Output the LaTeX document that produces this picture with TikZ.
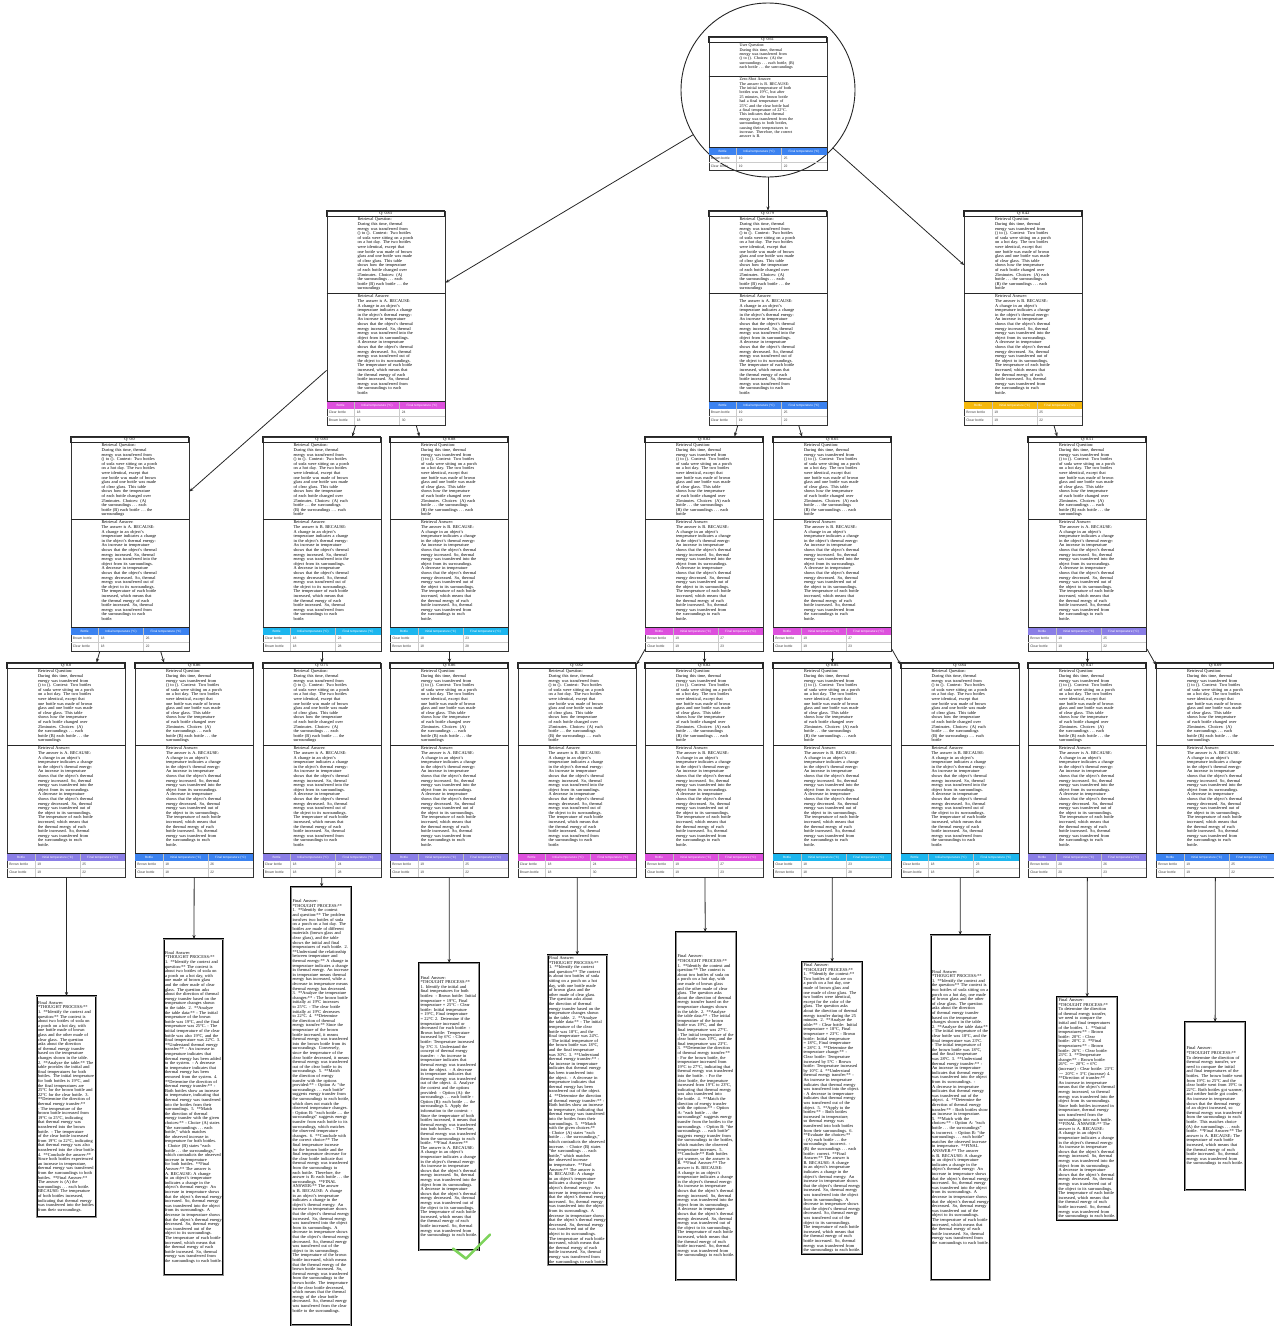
\documentclass[tikz,border=0pt]{standalone}
\usepackage{fontspec}
\setmainfont{Liberation Serif}
\newfontfamily\tabfont{Liberation Sans}
\usetikzlibrary{arrows.meta}
\hyphenpenalty=10000
\exhyphenpenalty=10000

\definecolor{hdblue}{HTML}{3B82F0}
\definecolor{hdpink}{HTML}{DD50DD}
\definecolor{hdcyan}{HTML}{1CB6EE}
\definecolor{hdgold}{HTML}{F5B80C}
\definecolor{hdlilac}{HTML}{8A7EE6}
\definecolor{checkgreen}{HTML}{7DD35B}

\newcommand{\lecture}{A change in an object's temperature indicates a change in the object's thermal energy: An increase in temperature shows that the object's thermal energy increased. So, thermal energy was transferred into the object from its surroundings. A decrease in temperature shows that the object's thermal energy decreased. So, thermal energy was transferred out of the object to its surroundings. The temperature of each bottle increased, which means that the thermal energy of each bottle increased. So, thermal energy was transferred from the surroundings to each bottle.}
\newcommand{\chA}{(A) the surroundings~.\,.\,.~each bottle (B) each bottle~.\,.\,.~the surroundings}
\newcommand{\chB}{(A) each bottle~.\,.\,.~the surroundings (B) the surroundings~.\,.\,.~each bottle}
\newcommand{\rqtext}[1]{Retrieval Question:\\During this time, thermal energy was transferred from () to (). Context: Two bottles of soda were sitting on a porch on a hot day. The two bottles were identical, except that one bottle was made of brown glass and one bottle was made of clear glass. This table shows how the temperature of each bottle changed over 25minutes. Choices: #1}

% one table row: name, y, bottle, initial, final
\newcommand{\tabrow}[5]{%
  \node[celltext] (#1a) at (2,#2) {#3};
  \node[celltext] (#1b) at (30,#2) {#4};
  \node[celltext] (#1c) at (75,#2) {#5};}

% retrieval card: name, x, top, score, choices, letter, colour, row, row
\newcommand{\card}[9]{%
  \node[cardframe] (#1) at (#2,#3+107) {};
  \begin{scope}[shift={(#1.north west)}]
    \draw[secline] (0,0) rectangle (118,6);
    \node[qlabel] (#1-s) at (59,3) {Q: #4};
    \node[cardtext] (#1-q) at (59,7.2) {\rqtext{#5}};
    \draw[secline] (0,83) -- (118,83);
    \node[cardtext] (#1-a) at (59,84.2) {Retrieval Answer:\\The answer is #6. BECAUSE: \lecture};
    \draw[secline] (0,191) -- (118,191);
    \fill[#7] (0,191.7) rectangle (118,198);
    \node[headtext] (#1-h1) at (14,194.9) {Bottle};
    \node[headtext] (#1-h2) at (50.5,194.9) {Initial temperature (°C)};
    \node[headtext] (#1-h3) at (95.5,194.9) {Final temperature (°C)};
    \draw[headline] (28,191.7) -- (28,198) (73,191.7) -- (73,198);
    \draw[gridline] (0,206) -- (118,206) (28,198) -- (28,214) (73,198) -- (73,214);
    \tabrow{#1-r1}{202.2}#8
    \tabrow{#1-r2}{210.2}#9
  \end{scope}}

\begin{document}
\begin{tikzpicture}[x=1pt,y=-1pt]
  \tikzset{
    cardframe/.style={draw=black!80, line width=0.9pt, minimum width=118pt, minimum height=214pt, inner sep=0pt},
    secline/.style={draw=black!85, line width=1.4pt},
    cardtext/.style={anchor=north, text width=56pt, align=left, inner sep=0pt, font=\fontsize{4.35}{4.6}\selectfont},
    qlabel/.style={inner sep=0pt, font=\fontsize{4.2}{4.5}\selectfont},
    headtext/.style={text=white, inner sep=0pt, font=\tabfont\fontsize{3.1}{3.5}\selectfont},
    celltext/.style={anchor=west, inner sep=0pt, text=black!75, font=\tabfont\fontsize{3.4}{3.5}\selectfont},
    headline/.style={draw=white!75!black, line width=0.4pt},
    gridline/.style={draw=black!20, line width=0.4pt},
    link/.style={draw=black!85, line width=0.8pt, -{Stealth[length=4pt,width=3.2pt]}},
    answerbox/.style={anchor=north, draw=black, double=black!45, double distance=1.1pt, line width=0.6pt, fill=white, text width=57pt, align=left, inner sep=1.2pt, font=\fontsize{4.4}{4.6}\selectfont},
  }
  \useasboundingbox (0,0) rectangle (1274,1328);

  % root: zero-shot answer
  \node[draw=black!85, line width=0.9pt, circle, minimum size=174pt, inner sep=0pt] (root) at (768,90) {};
  \node[cardframe, minimum height=133pt] (top) at (768,103.5) {};
  \begin{scope}[shift={(top.north west)}, cardtext/.append style={font=\fontsize{4.1}{4.4}\selectfont}]
    \draw[secline] (0,0) rectangle (118,6);
    \node[qlabel] (top-s) at (59,3) {Q: 0.61};
    \node[cardtext] (top-q) at (59,7.2) {User Question:\\During this time, thermal energy was transferred from () to (). Choices: (A) the surroundings~.\,.\,.~each bottle, (B) each bottle~.\,.\,.~the surroundings};
    \draw[secline] (0,40) -- (118,40);
    \node[cardtext] (top-a) at (59,41.2) {Zero-Shot Answer:\\The answer is B. BECAUSE: The initial temperature of both bottles was 19°C, but after 25 minutes, the brown bottle had a final temperature of 25°C and the clear bottle had a final temperature of 22°C. This indicates that thermal energy was transferred from the surroundings to both bottles, causing their temperatures to increase. Therefore, the correct answer is B.};
    \draw[secline] (0,111) -- (118,111);
    \fill[hdblue] (0,111.7) rectangle (118,118);
    \node[headtext] (top-h1) at (14,114.9) {Bottle};
    \node[headtext] (top-h2) at (50.5,114.9) {Initial temperature (°C)};
    \node[headtext] (top-h3) at (95.5,114.9) {Final temperature (°C)};
    \draw[headline] (28,111.7) -- (28,118) (73,111.7) -- (73,118);
    \draw[gridline] (0,125.5) -- (118,125.5) (28,118) -- (28,133) (73,118) -- (73,133);
    \tabrow{top-r1}{121.8}{Brown bottle}{19}{25}
    \tabrow{top-r2}{129.3}{Clear bottle}{19}{22}
  \end{scope}

  % level 1
  \card{a}{386}{211}{0.83}{\chA}{A}{hdpink}{{Clear bottle}{18}{24}}{{Brown bottle}{18}{30}}
  \card{b}{768}{211}{0.79}{\chA}{A}{hdblue}{{Brown bottle}{19}{25}}{{Clear bottle}{19}{22}}
  \card{c}{1023.5}{211}{0.42}{\chB}{B}{hdgold}{{Brown bottle}{19}{25}}{{Clear bottle}{19}{22}}

  % level 2
  \card{d}{130}{437}{0.0}{\chA}{A}{hdblue}{{Brown bottle}{18}{26}}{{Clear bottle}{18}{22}}
  \card{e}{322}{437}{0.83}{\chB}{B}{hdcyan}{{Clear bottle}{18}{23}}{{Brown bottle}{18}{28}}
  \card{f}{449.5}{437}{0.88}{\chB}{B}{hdcyan}{{Clear bottle}{18}{23}}{{Brown bottle}{18}{28}}
  \card{g}{704.5}{437}{0.82}{\chB}{B}{hdpink}{{Brown bottle}{19}{27}}{{Clear bottle}{19}{23}}
  \card{h}{832.5}{437}{0.65}{\chB}{B}{hdpink}{{Brown bottle}{19}{27}}{{Clear bottle}{19}{23}}
  \card{i}{1087.5}{437}{0.51}{\chA}{A}{hdlilac}{{Brown bottle}{19}{25}}{{Clear bottle}{19}{22}}

  % level 3
  \card{l1}{66.5}{663}{0.0}{\chA}{A}{hdlilac}{{Brown bottle}{19}{25}}{{Clear bottle}{19}{22}}
  \card{l2}{194.5}{663}{0.86}{\chA}{A}{hdblue}{{Brown bottle}{18}{26}}{{Clear bottle}{18}{22}}
  \card{l3}{322}{663}{0.75}{\chA}{A}{hdlilac}{{Clear bottle}{18}{24}}{{Brown bottle}{18}{28}}
  \card{l4}{449.5}{663}{0.86}{\chA}{A}{hdlilac}{{Brown bottle}{19}{25}}{{Clear bottle}{19}{22}}
  \card{l5}{577}{663}{0.82}{\chB}{B}{hdpink}{{Clear bottle}{18}{24}}{{Brown bottle}{18}{30}}
  \card{l6}{704.5}{663}{0.82}{\chB}{B}{hdpink}{{Brown bottle}{19}{27}}{{Clear bottle}{19}{23}}
  \card{l7}{832.5}{663}{0.85}{\chB}{B}{hdcyan}{{Clear bottle}{18}{23}}{{Brown bottle}{18}{28}}
  \card{l8}{960}{663}{0.84}{\chB}{B}{hdcyan}{{Clear bottle}{18}{23}}{{Brown bottle}{18}{28}}
  \card{l9}{1087.5}{663}{0.47}{\chA}{A}{hdlilac}{{Brown bottle}{20}{26}}{{Clear bottle}{20}{23}}
  \card{l10}{1215.5}{663}{0.69}{\chA}{A}{hdblue}{{Brown bottle}{19}{25}}{{Clear bottle}{19}{22}}

  % final answers
  \node[answerbox, minimum height=221pt] (fa1) at (66.5,996) {Final Answer:\\**THOUGHT PROCESS:** 1. **Identify the context and question:** The context is about two bottles of soda on a porch on a hot day, with one bottle made of brown glass and the other made of clear glass. The question asks about the direction of thermal energy transfer based on the temperature changes shown in the table. 2. **Analyze the table:** The table provides the initial and final temperatures for both bottles. The initial temperature for both bottles is 19°C, and the final temperatures are 25°C for the brown bottle and 22°C for the clear bottle. 3. **Determine the direction of thermal energy transfer:** - The temperature of the brown bottle increased from 19°C to 25°C, indicating that thermal energy was transferred into the brown bottle. - The temperature of the clear bottle increased from 19°C to 22°C, indicating that thermal energy was also transferred into the clear bottle. 4. **Conclude the answer:** Since both bottles experienced an increase in temperature, thermal energy was transferred from the surroundings to both bottles. **Final Answer:** The answer is (A) the surroundings~.\,.\,.~each bottle. BECAUSE: The temperature of both bottles increased, indicating that thermal energy was transferred into the bottles from their surroundings.};
  \node[answerbox, minimum height=336pt] (fa2) at (193.5,939) {Final Answer:\\**THOUGHT PROCESS:** 1. **Identify the context and question:** The context is about two bottles of soda on a porch on a hot day, with one made of brown glass and the other made of clear glass. The question asks about the direction of thermal energy transfer based on the temperature changes shown in the table. 2. **Analyze the table data:** - The initial temperature of the brown bottle was 19°C, and the final temperature was 25°C. - The initial temperature of the clear bottle was also 19°C, and the final temperature was 22°C. 3. **Understand thermal energy transfer:** - An increase in temperature indicates that thermal energy has been added to the system. - A decrease in temperature indicates that thermal energy has been removed from the system. 4. **Determine the direction of thermal energy transfer:** - Both bottles show an increase in temperature, indicating that thermal energy was transferred into the bottles from their surroundings. 5. **Match the direction of thermal energy transfer with the given choices:** - Choice (A) states ``the surroundings~.\,.\,.~each bottle,'' which matches the observed increase in temperature for both bottles. - Choice (B) states ``each bottle~.\,.\,.~the surroundings,'' which contradicts the observed increase in temperature for both bottles. **Final Answer:** The answer is A. BECAUSE: \lecture};
  \node[answerbox, minimum height=438pt] (fa3) at (321,887) {Final Answer:\\**THOUGHT PROCESS:** 1. **Identify the context and question:** The problem involves two bottles of soda on a porch on a hot day. The bottles are made of different materials (brown glass and clear glass), and the table shows the initial and final temperatures of each bottle. 2. **Understand the relationship between temperature and thermal energy:** A change in temperature indicates a change in thermal energy. An increase in temperature means thermal energy has increased, while a decrease in temperature means thermal energy has decreased. 3. **Analyze the temperature changes:** - The brown bottle initially at 19°C increases to 25°C. - The clear bottle initially at 19°C decreases to 22°C. 4. **Determine the direction of thermal energy transfer:** Since the temperature of the brown bottle increased, it means thermal energy was transferred into the brown bottle from its surroundings. Conversely, since the temperature of the clear bottle decreased, it means thermal energy was transferred out of the clear bottle to its surroundings. 5. **Match the direction of energy transfer with the options provided:** - Option A: ``the surroundings~.\,.\,.~each bottle'' suggests energy transfer from the surroundings to each bottle, which does not match the observed temperature changes. - Option B: ``each bottle~.\,.\,.~the surroundings'' suggests energy transfer from each bottle to its surroundings, which matches the observed temperature changes. 6. **Conclude with the correct choice:** The final temperature increase for the brown bottle and the final temperature decrease for the clear bottle indicate that thermal energy was transferred from the surroundings to each bottle. Therefore, the answer is B: each bottle~.\,.\,.~the surroundings. **FINAL ANSWER:** The answer is B. BECAUSE: A change in an object's temperature indicates a change in the object's thermal energy: An increase in temperature shows that the object's thermal energy increased. So, thermal energy was transferred into the object from its surroundings. A decrease in temperature shows that the object's thermal energy decreased. So, thermal energy was transferred out of the object to its surroundings. The temperature of the brown bottle increased, which means that the thermal energy of the brown bottle increased. So, thermal energy was transferred from the surroundings to the brown bottle. The temperature of the clear bottle decreased, which means that the thermal energy of the clear bottle decreased. So, thermal energy was transferred from the clear bottle to the surroundings.};
  \node[answerbox, minimum height=287pt] (fa4) at (449,963) {Final Answer:\\**THOUGHT PROCESS:** 1. Identify the initial and final temperatures for both bottles: - Brown bottle: Initial temperature = 19°C, Final temperature = 25°C - Clear bottle: Initial temperature = 19°C, Final temperature = 22°C 2. Determine if the temperature increased or decreased for each bottle: - Brown bottle: Temperature increased by 6°C - Clear bottle: Temperature increased by 3°C 3. Understand the concept of thermal energy transfer: - An increase in temperature indicates that thermal energy was transferred into the object. - A decrease in temperature indicates that thermal energy was transferred out of the object. 4. Analyze the context and the options provided: - Option (A): the surroundings~.\,.\,.~each bottle - Option (B): each bottle~.\,.\,.~the surroundings 5. Apply the information to the context: - Since the temperature of both bottles increased, it means that thermal energy was transferred into both bottles. - Therefore, thermal energy was transferred from the surroundings to each bottle. **Final Answer:** The answer is A. BECAUSE: \lecture};
  \node[answerbox, minimum height=303pt] (fa5) at (577.5,955) {Final Answer:\\**THOUGHT PROCESS:** 1. **Identify the context and question:** The context is about two bottles of soda sitting on a porch on a hot day, with one bottle made of brown glass and the other made of clear glass. The question asks about the direction of thermal energy transfer based on the temperature changes shown in the table. 2. **Analyze the table data:** - The initial temperature of the clear bottle was 18°C, and the final temperature was 24°C. - The initial temperature of the brown bottle was 18°C, and the final temperature was 30°C. 3. **Understand thermal energy transfer:** - An increase in temperature indicates that thermal energy has been transferred into the object. - A decrease in temperature indicates that thermal energy has been transferred out of the object. 4. **Determine the direction of thermal energy transfer:** - Both bottles show an increase in temperature, indicating that thermal energy was transferred into the bottles from their surroundings. 5. **Match with the given choices:** - Choice (A) states ``each bottle~.\,.\,.~the surroundings,'' which contradicts the observed increase. - Choice (B) states ``the surroundings~.\,.\,.~each bottle,'' which matches the observed increase in temperature. **Final Answer:** The answer is B. BECAUSE: \lecture};
  \node[answerbox, minimum height=348pt] (fa6) at (706,932) {Final Answer:\\**THOUGHT PROCESS:** 1. **Identify the context and question:** The context is about two bottles of soda on a porch on a hot day, with one made of brown glass and the other made of clear glass. The question asks about the direction of thermal energy transfer based on the temperature changes shown in the table. 2. **Analyze the table data:** - The initial temperature of the brown bottle was 19°C, and the final temperature was 27°C. - The initial temperature of the clear bottle was 19°C, and the final temperature was 23°C. 3. **Determine the direction of thermal energy transfer:** - For the brown bottle, the temperature increased from 19°C to 27°C, indicating that thermal energy was transferred into the bottle. - For the clear bottle, the temperature increased from 19°C to 23°C, indicating that thermal energy was also transferred into the bottle. 4. **Match the direction of energy transfer with the options:** - Option A: ``each bottle~.\,.\,.~the surroundings'' suggests energy transfer from the bottles to the surroundings. - Option B: ``the surroundings~.\,.\,.~each bottle'' suggests energy transfer from the surroundings to the bottles, which matches the observed temperature increases. 5. **Conclude:** Both bottles got warmer, so the answer is B. **Final Answer:** The answer is B. BECAUSE: \lecture};
  \node[answerbox, minimum height=290pt] (fa7) at (832,962) {Final Answer:\\**THOUGHT PROCESS:** 1. **Identify the context:** Two bottles of soda are on a porch on a hot day, one made of brown glass and one made of clear glass. The two bottles were identical, except for the color of the glass. The question asks about the direction of thermal energy transfer during the 25 minutes. 2. **Analyze the table:** - Clear bottle: Initial temperature = 18°C, Final temperature = 23°C - Brown bottle: Initial temperature = 18°C, Final temperature = 28°C 3. **Determine the temperature change:** - Clear bottle: Temperature increased by 5°C - Brown bottle: Temperature increased by 10°C 4. **Understand thermal energy transfer:** - An increase in temperature indicates that thermal energy was transferred into the object. - A decrease in temperature indicates that thermal energy was transferred out of the object. 5. **Apply to the bottles:** - Both bottles increased in temperature, so thermal energy was transferred into both bottles from their surroundings. 6. **Evaluate the choices:** - (A) each bottle~.\,.\,.~the surroundings: incorrect. - (B) the surroundings~.\,.\,.~each bottle: correct. **Final Answer:** The answer is B. BECAUSE: \lecture};
  \node[answerbox, minimum height=345pt] (fa8) at (960.5,935) {Final Answer:\\**THOUGHT PROCESS:** 1. **Identify the context and the question:** The context is two bottles of soda sitting on a porch on a hot day, one made of brown glass and the other of clear glass. The question asks about the direction of thermal energy transfer based on the temperature changes shown in the table. 2. **Analyze the table data:** - The initial temperature of the clear bottle was 18°C, and the final temperature was 23°C. - The initial temperature of the brown bottle was 18°C, and the final temperature was 28°C. 3. **Understand thermal energy transfer:** - An increase in temperature indicates that thermal energy was transferred into the object from its surroundings. - A decrease in temperature indicates that thermal energy was transferred out of the object. 4. **Determine the direction of thermal energy transfer:** - Both bottles show an increase in temperature. 5. **Match with the choices:** - Option A: ``each bottle~.\,.\,.~the surroundings'' is incorrect. - Option B: ``the surroundings~.\,.\,.~each bottle'' matches the observed increase in temperature. **FINAL ANSWER:** The answer is B. BECAUSE: \lecture};
  \node[answerbox, minimum height=219pt] (fa9) at (1087,997) {Final Answer:\\**THOUGHT PROCESS:** To determine the direction of thermal energy transfer, we need to compare the initial and final temperatures of the bottles. 1. **Initial temperatures:** - Brown bottle: 20°C - Clear bottle: 20°C 2. **Final temperatures:** - Brown bottle: 26°C - Clear bottle: 23°C 3. **Temperature change:** - Brown bottle: 26°C $-$ 20°C = 6°C (increase) - Clear bottle: 23°C $-$ 20°C = 3°C (increase) 4. **Direction of transfer:** An increase in temperature means that the object's thermal energy increased, so thermal energy was transferred into the object from its surroundings. Since both bottles increased in temperature, thermal energy was transferred from the surroundings into each bottle. **FINAL ANSWER:** The answer is A. BECAUSE: \lecture};
  \node[answerbox, minimum height=168pt] (fa10) at (1215,1022) {Final Answer:\\**THOUGHT PROCESS:** To determine the direction of thermal energy transfer, we need to compare the initial and final temperatures of the bottles. The brown bottle went from 19°C to 25°C and the clear bottle went from 19°C to 22°C. Both bottles got warmer, and neither bottle got cooler. An increase in temperature shows that the thermal energy of an object increased, so thermal energy was transferred from the surroundings to each bottle. This matches choice (A) the surroundings~.\,.\,.~each bottle. **Final Answer:** The answer is A. BECAUSE: The temperature of each bottle increased, which means that the thermal energy of each bottle increased. So, thermal energy was transferred from the surroundings to each bottle.};

  % connectors
  \foreach \u/\v in {root/a, root/b, root/c, a/d, a/e, a/f, b/g, b/h, c/i,
      d/l1, d/l2, e/l3, f/l4, g/l5, g/l6, h/l7, h/l8, i/l9, i/l10}
    \draw[link] (\u) -- (\v);
  \foreach \k in {1,...,10}
    \draw[link] (l\k) -- (fa\k);

  % chosen answer
  \draw[checkgreen, line width=2.6pt, line cap=round, line join=round]
    ([shift={(-26,-2)}]fa4.south east) -- ([shift={(-13,8)}]fa4.south east) -- ([shift={(11,-16)}]fa4.south east);
\end{tikzpicture}
\end{document}
